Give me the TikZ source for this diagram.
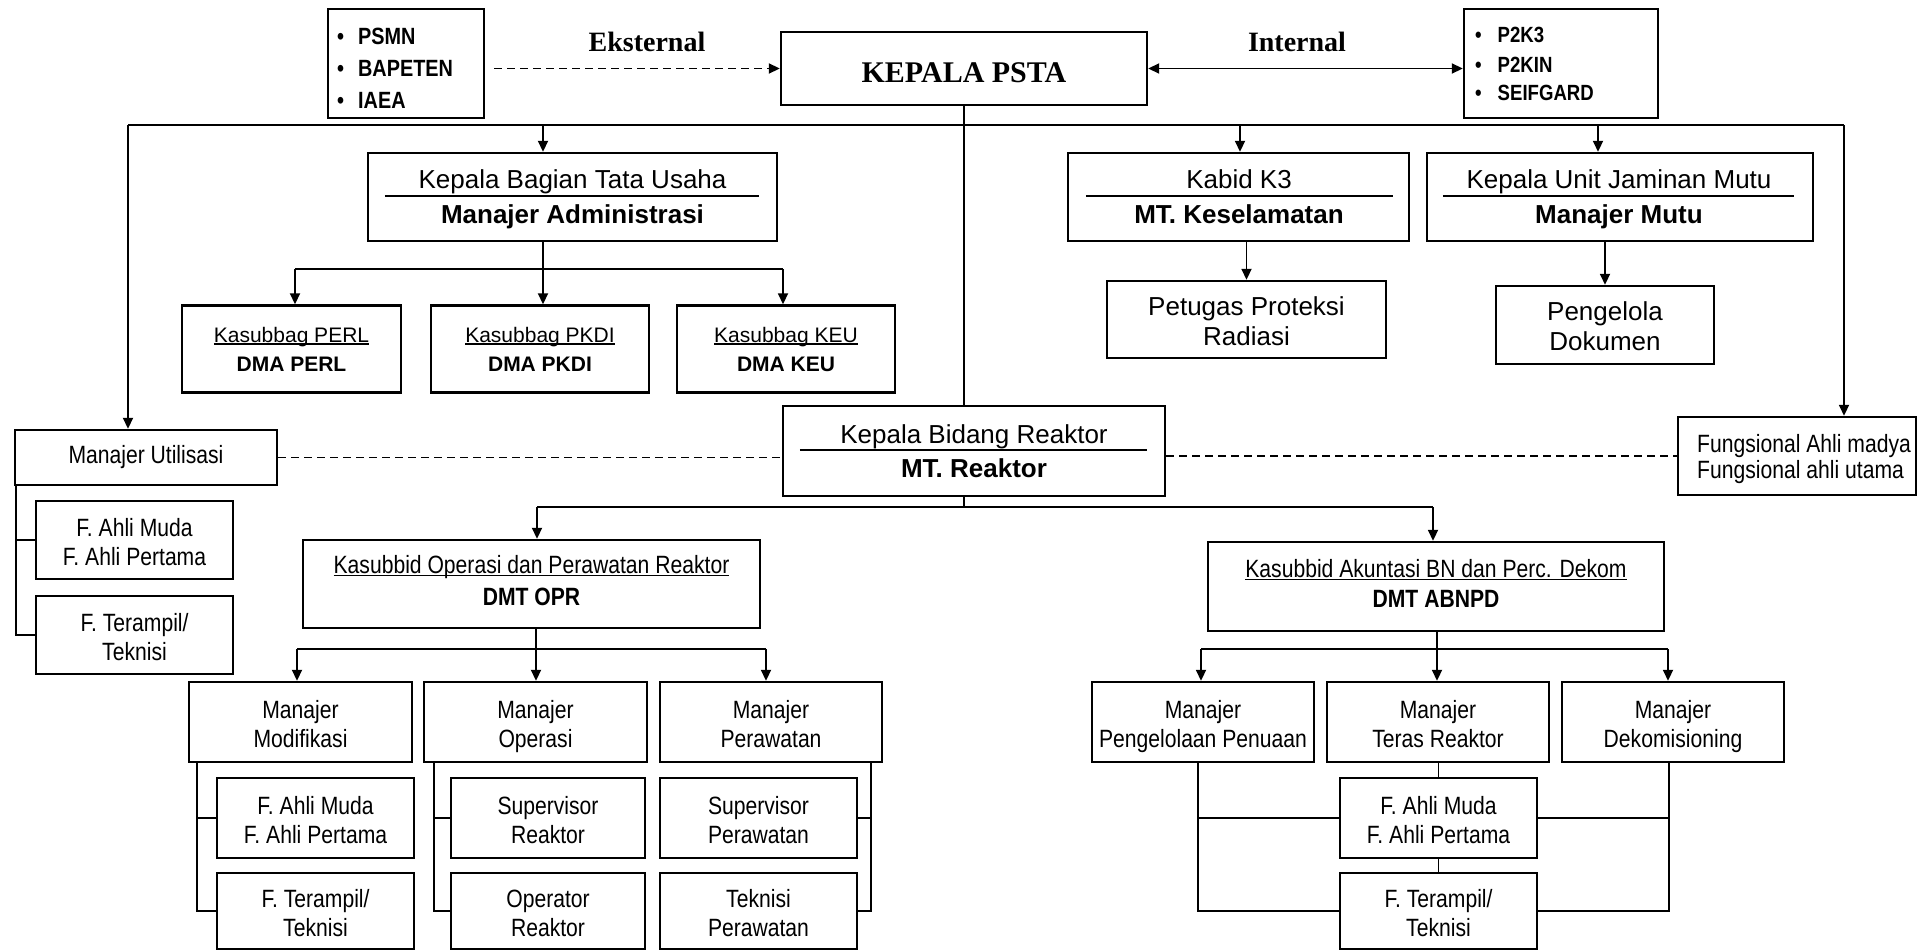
\documentclass[tikz,border=0pt]{standalone}
\usepackage{fontspec}
\setmainfont{Liberation Sans}
\newfontfamily\narrowsans[FakeStretch=0.845]{Liberation Sans}
\newfontfamily\headserif{Liberation Serif}
\usetikzlibrary{arrows.meta}
\newcommand{\fsz}[2]{\fontsize{#1}{#2}\selectfont}
\newcommand{\ulbox}[1]{\setbox0=\hbox{#1}\leavevmode\rlap{\rule[-2.6pt]{\wd0}{1.3pt}}\box0}
\newcommand{\lowerby}[2]{\raisebox{-#1}[\height][\depth]{#2}}
% two centred lines with a fixed first-line height and last-line depth
\newcommand{\twol}[2]{\rule{0pt}{26.5pt}#1\\#2\rule[-5.5pt]{0pt}{5.5pt}}

\begin{document}
\begin{tikzpicture}[x=1pt,y=-1pt,
  bx/.style={draw, line width=2.4pt, inner sep=0pt, align=center},
  nt/.style={font=\narrowsans\fsz{25}{29}},
  wt/.style={font=\fsz{26}{30}},
  wtb/.style={font=\fsz{26}{30}\bfseries},
  st/.style={font=\fsz{21}{29}},
  lbl/.style={font=\headserif\bfseries\fsz{28}{30}, inner sep=0pt, anchor=base},
  blt/.style={font=\narrowsans\bfseries\fsz{23.5}{28}, inner sep=0pt, anchor=base west},
  ttl/.style={inner sep=0pt, anchor=base},
  con/.style={line width=1.8pt},
  arr/.style={con, -{Triangle[length=11pt,width=10pt]}},
  dblarr/.style={con, {Triangle[length=11pt,width=10pt]}-{Triangle[length=11pt,width=10pt]}},
  dsh/.style={con, dash pattern=on 8pt off 5pt},
]
\fill[white] (0,0) rectangle (1919,950);
\useasboundingbox (0,0) rectangle (1919,950);

% ---------- head and partners ----------
\node[bx, minimum width=156, minimum height=109] (ext) at (406,63.5) {};
\node[blt] (ext1) at (337,45)   {\textbullet\hspace{14pt}PSMN};
\node[blt] (ext2) at (337,76.5) {\textbullet\hspace{14pt}BAPETEN};
\node[blt] (ext3) at (337,108)  {\textbullet\hspace{14pt}IAEA};

\node[bx, minimum width=194, minimum height=109] (int) at (1561,63.5) {};
\node[blt, font=\narrowsans\bfseries\fsz{22}{28}] (int1) at (1475,43)  {\textbullet\hspace{16pt}P2K3};
\node[blt, font=\narrowsans\bfseries\fsz{22}{28}] (int2) at (1475,72)  {\textbullet\hspace{16pt}P2KIN};
\node[blt, font=\narrowsans\bfseries\fsz{22}{28}] (int3) at (1475,100) {\textbullet\hspace{16pt}SEIFGARD};

\node[bx, minimum width=366, minimum height=73, font=\headserif\bfseries\fsz{30}{30}] (head) at (964,68.5) {\lowerby{4pt}{KEPALA PSTA}};

\node[lbl] (lext) at (647,52)  {Eksternal};
\node[lbl] (lint) at (1297,52) {Internal};

% ---------- second level ----------
\node[bx, minimum width=409, minimum height=88] (tu) at (572.5,197) {};
\node[ttl, wt]  (tu1) at (572.5,188) {Kepala Bagian Tata Usaha};
\node[ttl, wtb] (tu2) at (572.5,223) {Manajer Administrasi};
\draw[con] ([shift={(18,-1)}]tu.west) -- ([shift={(-19,-1)}]tu.east);

\node[bx, minimum width=341, minimum height=88] (k3) at (1238.5,197) {};
\node[ttl, wt]  (k31) at (1239,188) {Kabid K3};
\node[ttl, wtb] (k32) at (1239,223) {MT. Keselamatan};
\draw[con] ([shift={(19,-1)}]k3.west) -- ([shift={(-17,-1)}]k3.east);

\node[bx, minimum width=386, minimum height=88] (qa) at (1620,197) {};
\node[ttl, wt]  (qa1) at (1619,188) {Kepala Unit Jaminan Mutu};
\node[ttl, wtb] (qa2) at (1619,223) {Manajer Mutu};
\draw[con] ([shift={(17,-1)}]qa.west) -- ([shift={(-20,-1)}]qa.east);

\node[bx, wt, minimum width=279, minimum height=77] (pet) at (1246.5,319.5) {\twol{Petugas Proteksi}{Radiasi}};
\node[bx, wt, minimum width=218, minimum height=78] (doc) at (1605,325) {\twol{Pengelola}{Dokumen}};

\node[bx, st, minimum width=219, minimum height=87] (perl) at (291.5,349) {\ulbox{Kasubbag PERL}\\\textbf{DMA PERL}};
\node[bx, st, minimum width=218, minimum height=87] (pkdi) at (540,349)   {\ulbox{Kasubbag PKDI}\\\textbf{DMA PKDI}};
\node[bx, st, minimum width=218, minimum height=87] (keu)  at (786,349)   {\ulbox{Kasubbag KEU}\\\textbf{DMA KEU}};

% ---------- utilisation and functional staff ----------
\node[bx, nt, minimum width=262, minimum height=55] (util) at (146,457.5) {Manajer Utilisasi};
\node[bx, nt, minimum width=197, minimum height=78] (ua) at (134.5,540) {\twol{F. Ahli Muda}{F. Ahli Pertama}};
\node[bx, nt, minimum width=197, minimum height=78] (ub) at (134.5,635) {\twol{F. Terampil/}{Teknisi}};

\node[bx, minimum width=238, minimum height=78] (fung) at (1797,456) {};
\node[nt, inner sep=0pt, anchor=base west] (fung1) at (1697,452) {Fungsional Ahli madya};
\node[nt, inner sep=0pt, anchor=base west] (fung2) at (1697,478) {Fungsional ahli utama};

% ---------- reactor division ----------
\node[bx, minimum width=382, minimum height=90] (kbr) at (974,451) {};
\node[ttl, wt]  (kbr1) at (974,443) {Kepala Bidang Reaktor};
\node[ttl, wtb] (kbr2) at (974,477) {MT. Reaktor};
\draw[con] ([shift={(18,-1)}]kbr.west) -- ([shift={(-19,-1)}]kbr.east);

\node[bx, font=\narrowsans\fsz{25}{32}, minimum width=457, minimum height=88] (opr) at (531.5,584)
  {\ulbox{Kasubbid Operasi dan Perawatan Reaktor}\\\textbf{DMT OPR}\rule[-7.5pt]{0pt}{7.5pt}};
\node[bx, font=\narrowsans\fsz{25}{30}, minimum width=456, minimum height=89] (abn) at (1436,586.5)
  {\ulbox{Kasubbid Akuntasi BN dan Perc. Dekom}\\\textbf{DMT ABNPD}\rule[-6.5pt]{0pt}{6.5pt}};

\node[bx, nt, minimum width=223, minimum height=80] (mmod) at (300.5,722) {\twol{Manajer}{Modifikasi}};
\node[bx, nt, minimum width=223, minimum height=80] (mop)  at (535.5,722) {\twol{Manajer}{Operasi}};
\node[bx, nt, minimum width=222, minimum height=80] (mper) at (771,722)   {\twol{Manajer}{Perawatan}};

\node[bx, nt, minimum width=222, minimum height=80] (mpen) at (1203,722) {\twol{Manajer}{Pengelolaan Penuaan}};
\node[bx, nt, minimum width=222, minimum height=80] (mter) at (1438,722) {\twol{Manajer}{Teras Reaktor}};
\node[bx, nt, minimum width=222, minimum height=80] (mdek) at (1673,722) {\twol{Manajer}{Dekomisioning}};

\node[bx, nt, minimum width=197, minimum height=80] (mod1) at (315.5,818) {\twol{F. Ahli Muda}{F. Ahli Pertama}};
\node[bx, nt, minimum width=197, minimum height=76] (mod2) at (315.5,911) {\twol{F. Terampil/}{Teknisi}};
\node[bx, nt, minimum width=194, minimum height=80] (op1)  at (548,818)   {\twol{Supervisor}{Reaktor}};
\node[bx, nt, minimum width=194, minimum height=76] (op2)  at (548,911)   {\twol{Operator}{Reaktor}};
\node[bx, nt, minimum width=197, minimum height=80] (per1) at (758.5,818) {\twol{Supervisor}{Perawatan}};
\node[bx, nt, minimum width=197, minimum height=76] (per2) at (758.5,911) {\twol{Teknisi}{Perawatan}};

\node[bx, nt, minimum width=197, minimum height=80] (f1) at (1438.5,818) {\twol{F. Ahli Muda}{F. Ahli Pertama}};
\node[bx, nt, minimum width=197, minimum height=76] (f2) at (1438.5,911) {\twol{F. Terampil/}{Teknisi}};

% ---------- relations of the head ----------
\draw[dsh, -{Triangle[length=11pt,width=10pt]}] (head.west -| ext.east) ++(9,0) -- (head.west);
\draw[dblarr] (head.east) -- (head.east -| int.west);

% ---------- top distribution line ----------
\coordinate (bl)  at (128,125);
\coordinate (br)  at (1844,125);
\coordinate (btu) at (543,125);
\coordinate (bk3) at (1240,125);
\coordinate (bqa) at (1598,125);
\draw[con] (bl) -- (br);
\draw[arr] (bl) -- (bl |- util.north);
\draw[arr] (br) -- (br |- fung.north);
\draw[arr] (btu) -- (btu |- tu.north);
\draw[arr] (bk3) -- (bk3 |- k3.north);
\draw[arr] (bqa) -- (bqa |- qa.north);
\draw[con] (head.south) -- (head.south |- kbr.north);

% ---------- administration ----------
\coordinate (tuj) at (543,269);
\coordinate (tul) at (295,269);
\coordinate (tur) at (783,269);
\draw[con] (tuj |- tu.south) -- (tuj);
\draw[con] (tul) -- (tur);
\draw[arr] (tul) -- (tul |- perl.north);
\draw[arr] (tuj) -- (tuj |- pkdi.north);
\draw[arr] (tur) -- (tur |- keu.north);

% ---------- safety and quality ----------
\draw[arr] (k3.south -| pet.north) -- (pet.north);
\draw[arr] (qa.south -| doc.north) -- (doc.north);

% ---------- coordination lines ----------
\draw[dsh] (util.east) -- (util.east -| kbr.west);
\draw[dsh] (fung.west -| kbr.east) -- (fung.west);

% ---------- utilisation staff ----------
\coordinate (xu) at (16,0);
\draw[con] (util.south -| xu) |- (ub.west);
\draw[con] (xu |- ua.west) -- (ua.west);

% ---------- reactor division ----------
\coordinate (rj) at (964,507);
\coordinate (rl) at (537,507);
\coordinate (rr) at (1433,507);
\draw[con] (rj |- kbr.south) -- (rj);
\draw[con] (rl) -- (rr);
\draw[arr] (rl) -- (rl |- opr.north);
\draw[arr] (rr) -- (rr |- abn.north);

\coordinate (oj) at (536,649);
\coordinate (ol) at (297,649);
\coordinate (or) at (766,649);
\draw[con] (oj |- opr.south) -- (oj);
\draw[con] (ol) -- (or);
\draw[arr] (ol) -- (ol |- mmod.north);
\draw[arr] (oj) -- (oj |- mop.north);
\draw[arr] (or) -- (or |- mper.north);

\coordinate (aj) at (1437,649);
\coordinate (al) at (1201,649);
\coordinate (ar) at (1668,649);
\draw[con] (aj |- abn.south) -- (aj);
\draw[con] (al) -- (ar);
\draw[arr] (al) -- (al |- mpen.north);
\draw[arr] (aj) -- (aj |- mter.north);
\draw[arr] (ar) -- (ar |- mdek.north);

% staff brackets under the managers
\coordinate (xmod) at (197,0);
\coordinate (xop)  at (434,0);
\coordinate (xper) at (871,0);
\draw[con] (mmod.south -| xmod) |- (mod2.west);
\draw[con] (xmod |- mod1.west) -- (mod1.west);
\draw[con] (mop.south -| xop) |- (op2.west);
\draw[con] (xop |- op1.west) -- (op1.west);
\draw[con] (mper.south -| xper) |- (per2.east);
\draw[con] (xper |- per1.east) -- (per1.east);

\coordinate (xpen) at (1198,0);
\coordinate (xdek) at (1669,0);
\draw[con] (mter.south -| f1.north) -- (f1.north);
\draw[con] (f1.south) -- (f2.north);
\draw[con] (mpen.south -| xpen) |- (f2.west);
\draw[con] (xpen |- f1.west) -- (f1.west);
\draw[con] (mdek.south -| xdek) |- (f2.east);
\draw[con] (xdek |- f1.east) -- (f1.east);
\end{tikzpicture}
\end{document}
